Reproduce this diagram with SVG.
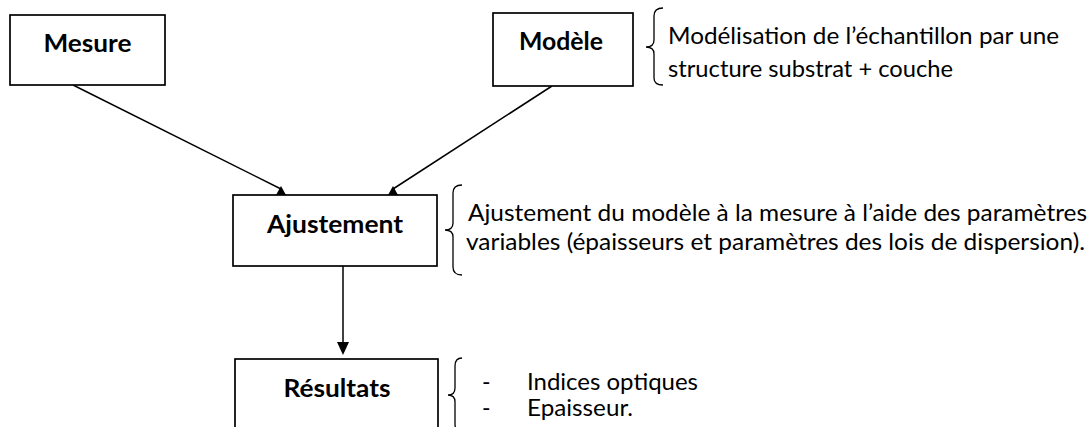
<svg xmlns="http://www.w3.org/2000/svg" width="1090" height="427" viewBox="0 0 1090 427">
<style>
.box{fill:#fff;stroke:#000;stroke-width:1.7}
.lbl{font-family:Lato,"Open Sans","Liberation Sans",sans-serif;font-weight:bold;font-size:25px;fill:#000;text-anchor:middle}
.txt{font-family:Lato,"Open Sans","Liberation Sans",sans-serif;font-size:23px;fill:#000}
.brace{fill:none;stroke:#000;stroke-width:1.3}
.conn{stroke:#000;stroke-width:1.5;fill:none}
.head{fill:#000}
</style>
<rect width="1090" height="427" fill="#fff"/>
<g id="connectors">
<line class="conn" x1="73" y1="85" x2="281" y2="189"/>
<polygon class="head" points="281,186 276,195 286,195"/>
<line class="conn" x1="552" y1="86" x2="393" y2="189"/>
<polygon class="head" points="393,186 388,195 398,195"/>
<line class="conn" x1="343" y1="266" x2="343" y2="343"/>
<polygon class="head" points="337,342 349,342 343,355"/>
</g>
<g id="mesure">
<rect class="box" x="10" y="15" width="155" height="70"/>
<text class="lbl" x="87.5" y="52" textLength="88" lengthAdjust="spacingAndGlyphs">Mesure</text>
</g>
<g id="modele">
<rect class="box" x="493" y="13" width="140" height="73"/>
<text class="lbl" x="561" y="50" font-size="24" textLength="84" lengthAdjust="spacingAndGlyphs">Modèle</text>
</g>
<g id="ajustement">
<rect class="box" x="233" y="195" width="204" height="71"/>
<text class="lbl" x="335" y="233" textLength="136" lengthAdjust="spacingAndGlyphs">Ajustement</text>
</g>
<g id="resultats">
<rect class="box" x="235" y="359" width="203" height="90"/>
<text class="lbl" x="337" y="397" textLength="107" lengthAdjust="spacingAndGlyphs">Résultats</text>
</g>
<g id="note-modele">
<path class="brace" d="M663,8 Q654,8 654,16 L654,40 Q654,47 646,47 Q654,47 654,54 L654,78 Q654,85 663,85"/>
<text class="txt" x="668" y="43.5" textLength="391" lengthAdjust="spacingAndGlyphs">Modélisation de l’échantillon par une</text>
<text class="txt" x="668" y="77" textLength="285" lengthAdjust="spacingAndGlyphs">structure substrat + couche</text>
</g>
<g id="note-ajustement">
<path class="brace" d="M462,185 Q453,185 453,193 L453,223 Q453,230 445,230 Q453,230 453,237 L453,267 Q453,275 462,275"/>
<text class="txt" x="468" y="221" textLength="619" lengthAdjust="spacingAndGlyphs">Ajustement du modèle à la mesure à l’aide des paramètres</text>
<text class="txt" x="466" y="250" textLength="619" lengthAdjust="spacingAndGlyphs">variables (épaisseurs et paramètres des lois de dispersion).</text>
</g>
<g id="note-resultats">
<path class="brace" d="M462,358 Q455,358 455,366 L455,388 Q455,395 448,395 Q455,395 455,402 L455,424 Q455,432 462,432"/>
<text class="txt" x="482" y="390">-</text>
<text class="txt" x="527" y="390" textLength="171" lengthAdjust="spacingAndGlyphs">Indices optiques</text>
<text class="txt" x="482" y="416">-</text>
<text class="txt" x="527" y="416" textLength="106" lengthAdjust="spacingAndGlyphs">Epaisseur.</text>
</g>
</svg>
